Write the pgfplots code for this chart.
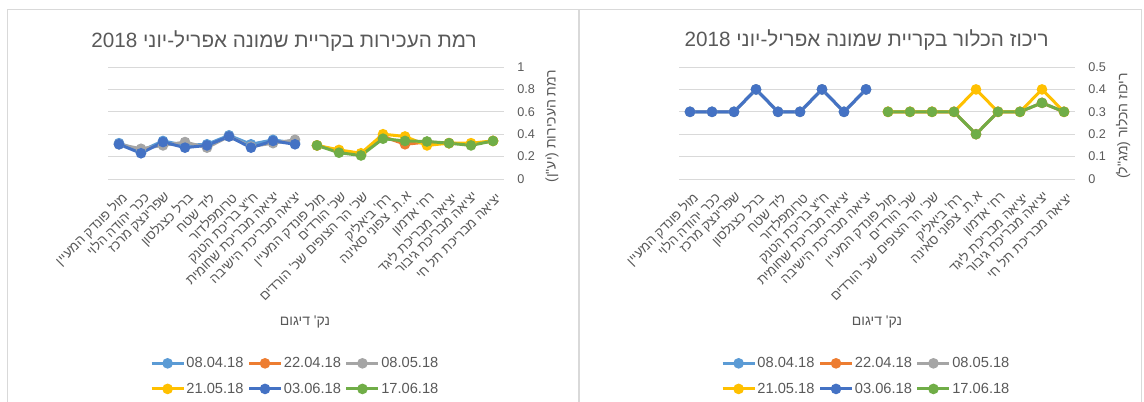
\documentclass[border=0pt]{standalone}
\usepackage{fontspec}
\setmainfont{Liberation Sans}
\newfontfamily\heb[Script=Hebrew]{Liberation Sans}
\usepackage{pgfplots}
\pgfplotsset{compat=1.18}
\TeXXeTstate=1
\newcommand{\R}[1]{{\heb\beginR #1\endR}}
\definecolor{cA}{HTML}{5B9BD5}
\definecolor{cB}{HTML}{ED7D31}
\definecolor{cC}{HTML}{A5A5A5}
\definecolor{cD}{HTML}{FFC000}
\definecolor{cE}{HTML}{4472C4}
\definecolor{cF}{HTML}{70AD47}
\definecolor{txt}{HTML}{595959}
\definecolor{grid}{HTML}{D9D9D9}
\pgfplotsset{
  panel/.style={
    scale only axis, width=297pt, height=84pt,
    xmin=-0.5, xmax=17.5, ymin=0,
    axis line style={draw=none}, tick style={draw=none},
    ymajorgrids, grid style={color=grid, line width=0.75pt},
    yticklabel pos=right,
    /pgf/number format/assume math mode=true,
    yticklabel style={anchor=west, xshift=6.5pt, font=\fontsize{9.5}{11}\selectfont, text=txt},
    xtick={0,...,17},
    xticklabels={\R{מול פונדק המעיין},\R{ככר יהודה הלוי},\R{שפרינצק מרכז},\R{ברל כצנלסון},\R{ליד שטח},\R{טרומפלדור},\R{ח"צ בריכת הטנק},\R{יציאה מבריכת שחומית},\R{יציאה מבריכת הישיבה},\R{מול פונדק המעיין},\R{שכ' הורדים},\R{שכ' הר הצופים שכ' הורדים},\R{רח' ביאליק},\R{א.ת. צפוני סאינה},\R{רח' אדמון},\R{יציאה מבריכת ליגד},\R{יציאה מבריכת גיבור},\R{יציאה מבריכת תל חי}},
    xticklabel style={yshift=-9pt, xshift=1pt, rotate=45, anchor=north east, inner sep=0pt, font=\fontsize{10}{12}\selectfont, text=txt},
    every axis plot/.append style={line width=2.25pt, mark=*, mark size=2.8pt},
    legend columns=3,
    legend style={at={(axis description cs:0.472,-1.76)}, anchor=center, draw=none, fill=none,
      font=\fontsize{11}{13}\selectfont, text=txt, row sep=8pt,
      nodes={inner sep=1pt},
      /tikz/every odd column/.append style={column sep=0pt},
      /tikz/every even column/.append style={column sep=2pt}},
    legend image code/.code={\draw[mark repeat=2,mark phase=2] plot coordinates {(0pt,0pt) (12pt,0pt) (24pt,0pt)};},
  }
}
\begin{document}
\begin{tikzpicture}
\useasboundingbox (0pt,0pt) rectangle (858pt,-300.75pt);
\draw[grid, line width=0.75pt] (5.25pt,-310pt) -- (5.25pt,-6.75pt) -- (433.5pt,-6.75pt) -- (433.5pt,-310pt);
\draw[grid, line width=0.75pt] (434.5pt,-310pt) -- (434.5pt,-6.75pt) -- (856pt,-6.75pt) -- (856pt,-310pt);
% left chart: turbidity
\begin{axis}[panel, at={(81pt,-134.25pt)}, anchor=south west, ymax=1, ytick={0,0.2,0.4,0.6,0.8,1}]
\addplot[color=cA] coordinates {(0,0.32)(1,0.25)(2,0.34)(3,0.30)(4,0.31)(5,0.39)(6,0.31)(7,0.35)(8,0.32)};
\addlegendentry{08.04.18}
\addplot[color=cB] coordinates {(9,0.30)(10,0.25)(11,0.22)(12,0.38)(13,0.31)(14,0.33)(15,0.32)(16,0.31)(17,0.34)};
\addlegendentry{22.04.18}
\addplot[color=cC] coordinates {(0,0.31)(1,0.27)(2,0.30)(3,0.33)(4,0.28)(5,0.38)(6,0.29)(7,0.32)(8,0.35)};
\addlegendentry{08.05.18}
\addplot[color=cD] coordinates {(9,0.30)(10,0.26)(11,0.23)(12,0.40)(13,0.38)(14,0.30)(15,0.32)(16,0.32)(17,0.34)};
\addlegendentry{21.05.18}
\addplot[color=cE] coordinates {(0,0.31)(1,0.23)(2,0.33)(3,0.28)(4,0.30)(5,0.38)(6,0.28)(7,0.34)(8,0.31)};
\addlegendentry{03.06.18}
\addplot[color=cF] coordinates {(9,0.30)(10,0.235)(11,0.21)(12,0.36)(13,0.34)(14,0.335)(15,0.32)(16,0.30)(17,0.34)};
\addlegendentry{17.06.18}
\end{axis}
% right chart: chlorine
\begin{axis}[panel, at={(509.25pt,-134.25pt)}, anchor=south west, ymax=0.5, ytick={0,0.1,0.2,0.3,0.4,0.5}]
\addplot[color=cA] coordinates {(0,0.3)(1,0.3)(2,0.3)(3,0.4)(4,0.3)(5,0.3)(6,0.4)(7,0.3)(8,0.4)};
\addlegendentry{08.04.18}
\addplot[color=cB] coordinates {(9,0.3)(10,0.3)(11,0.3)(12,0.3)(13,0.2)(14,0.3)(15,0.3)(16,0.34)(17,0.3)};
\addlegendentry{22.04.18}
\addplot[color=cC] coordinates {(0,0.3)(1,0.3)(2,0.3)(3,0.4)(4,0.3)(5,0.3)(6,0.4)(7,0.3)(8,0.4)};
\addlegendentry{08.05.18}
\addplot[color=cD] coordinates {(9,0.3)(10,0.3)(11,0.3)(12,0.3)(13,0.4)(14,0.3)(15,0.3)(16,0.4)(17,0.3)};
\addlegendentry{21.05.18}
\addplot[color=cE] coordinates {(0,0.3)(1,0.3)(2,0.3)(3,0.4)(4,0.3)(5,0.3)(6,0.4)(7,0.3)(8,0.4)};
\addlegendentry{03.06.18}
\addplot[color=cF] coordinates {(9,0.3)(10,0.3)(11,0.3)(12,0.3)(13,0.2)(14,0.3)(15,0.3)(16,0.34)(17,0.3)};
\addlegendentry{17.06.18}
\end{axis}
% titles and axis titles
\node[anchor=base, text=txt, font=\fontsize{15.5}{18}\selectfont] at (213pt,-35.25pt) {\R{רמת העכירות בקריית שמונה אפריל-יוני \beginL 2018\endL}};
\node[anchor=base, text=txt, font=\fontsize{15.5}{18}\selectfont] at (650pt,-34.5pt) {\R{ריכוז הכלור בקריית שמונה אפריל-יוני \beginL 2018\endL}};
\node[rotate=90, text=txt, font=\fontsize{10.5}{12}\selectfont] at (414pt,-94.5pt) {\R{רמת העכירות (יע"ן)}};
\node[rotate=90, text=txt, font=\fontsize{10.5}{12}\selectfont] at (842.25pt,-94.5pt) {\R{ריכוז הכלור (מג"ל)}};
\node[text=txt, font=\fontsize{10.5}{12}\selectfont] at (228.75pt,-241.5pt) {\R{נק' דיגום}};
\node[text=txt, font=\fontsize{10.5}{12}\selectfont] at (657.75pt,-241.5pt) {\R{נק' דיגום}};
\end{tikzpicture}
\end{document}
